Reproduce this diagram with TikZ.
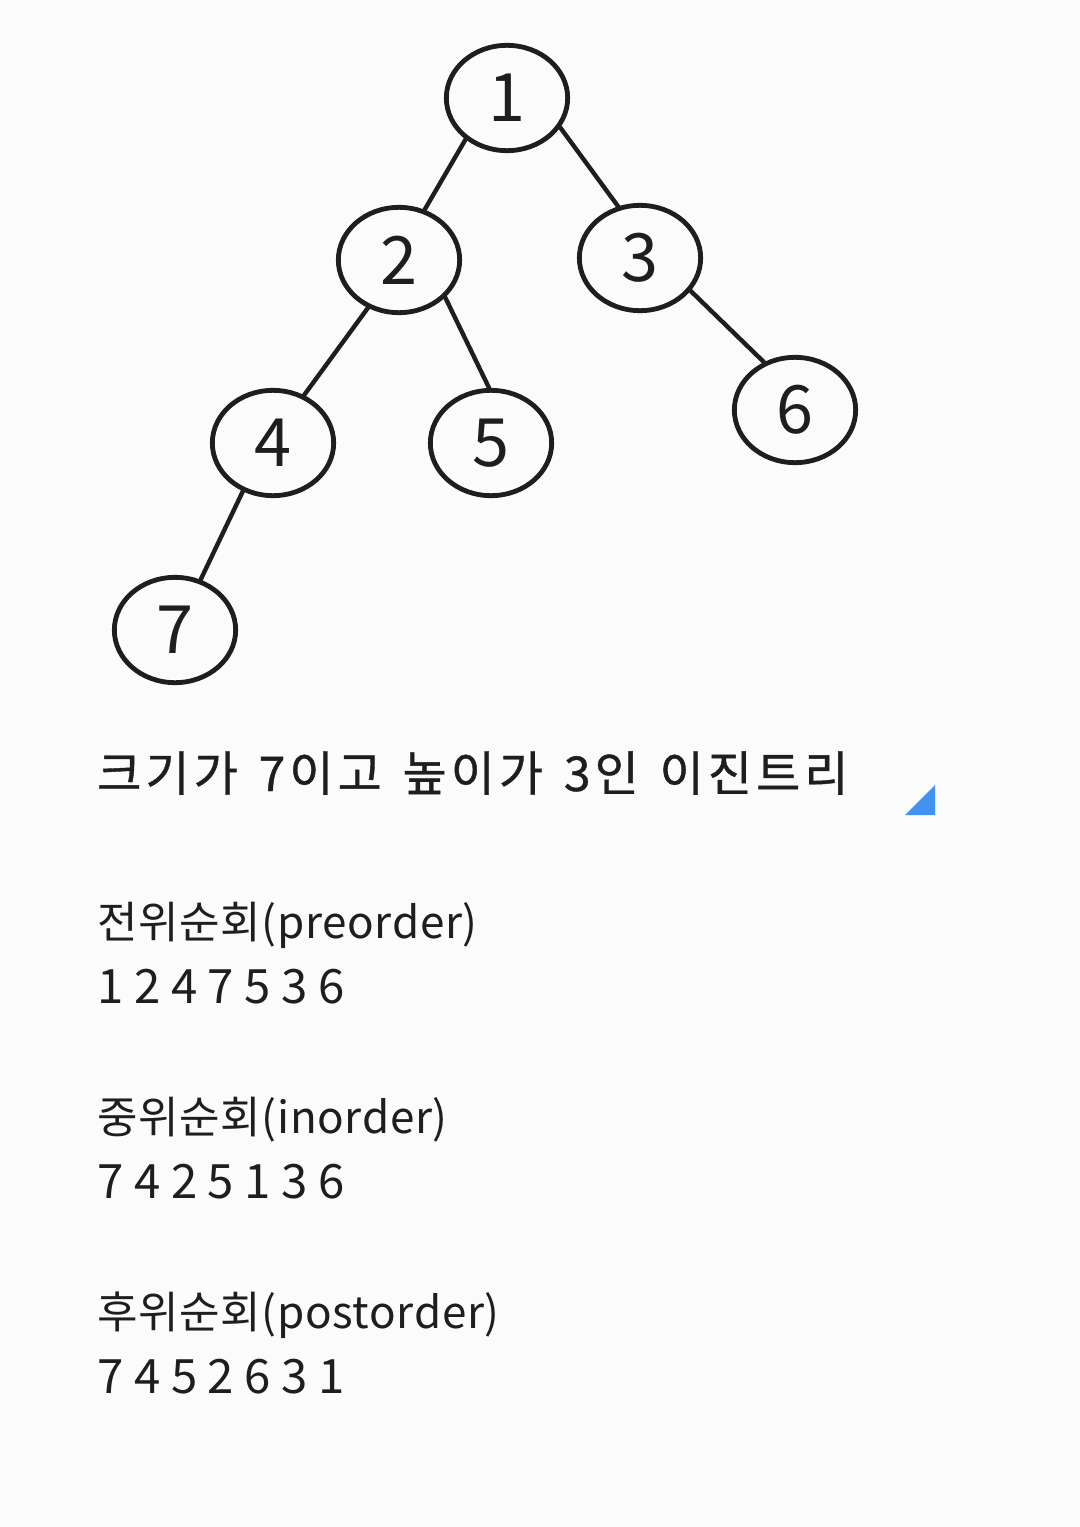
\documentclass[tikz,border=0pt]{standalone}
\usepackage{fontspec}
\setmainfont{Noto Sans CJK KR}
\newfontfamily\titlefont[FakeBold=0.8, LetterSpace=8.5, WordSpace=1.4]{Noto Sans CJK KR}
\newfontfamily\headfont[LetterSpace=1.5]{Noto Sans CJK KR}
\usetikzlibrary{shapes.geometric}
\definecolor{ink}{RGB}{30,30,30}
\definecolor{paper}{RGB}{251,251,251}
\definecolor{marker}{RGB}{66,146,240}

\begin{document}
\begin{tikzpicture}[
    x=0.75pt, y=-0.75pt,
    vert/.style={draw=ink, ellipse, line width=3.6pt, minimum width=91pt, minimum height=79pt,
                 inner sep=0pt, text=ink, font=\fontsize{50}{50}\selectfont},
    edge/.style={draw=ink, line width=3.3pt, line cap=round},
    head/.style={anchor=base west, inner sep=0pt, text=ink, font=\headfont\fontsize{33}{40}\selectfont},
    seq/.style={anchor=base west, inner sep=0pt, text=ink, font=\fontsize{35.5}{40}\selectfont}
  ]
  \fill[paper] (0,0) rectangle (1080,1527);
  \useasboundingbox (0,0) rectangle (1080,1527);

  % --- Tree ---
  \node[vert] (n1) at (507,98) {1};
  \node[vert] (n2) at (399,260) {2};
  \node[vert] (n3) at (640,258) {3};
  \node[vert] (n4) at (273,443) {4};
  \node[vert] (n5) at (491,443) {5};
  \node[vert] (n6) at (795,410) {6};
  \node[vert] (n7) at (175,630) {7};
  \draw[edge] (n1.225) -- (n2.63);
  \draw[edge] (n1.331) -- (n3.113);
  \draw[edge] (n2.237) -- (n4.57);
  \draw[edge] (n2.321) -- (n5.92);
  \draw[edge] (n3.327) -- (n6.123);
  \draw[edge] (n4.238) -- (n7.63);

  % --- Caption ---
  \node[head, font=\titlefont\fontsize{36}{40}\selectfont] (title) at (97,791)
    {크기가 7이고 높이가 3인 이진트리};
  \fill[marker] (905,815) -- (935,815) -- (935,785) -- cycle;

  % --- Traversals ---
  \node[head] (pre) at (97,938) {전위순회(preorder)};
  \node[seq] (preseq) at (97,1003) {1 2 4 7 5 3 6};
  \node[head] (in) at (97,1133) {중위순회(inorder)};
  \node[seq] (inseq) at (97,1198) {7 4 2 5 1 3 6};
  \node[head] (post) at (97,1328) {후위순회(postorder)};
  \node[seq] (postseq) at (97,1393) {7 4 5 2 6 3 1};
\end{tikzpicture}
\end{document}
